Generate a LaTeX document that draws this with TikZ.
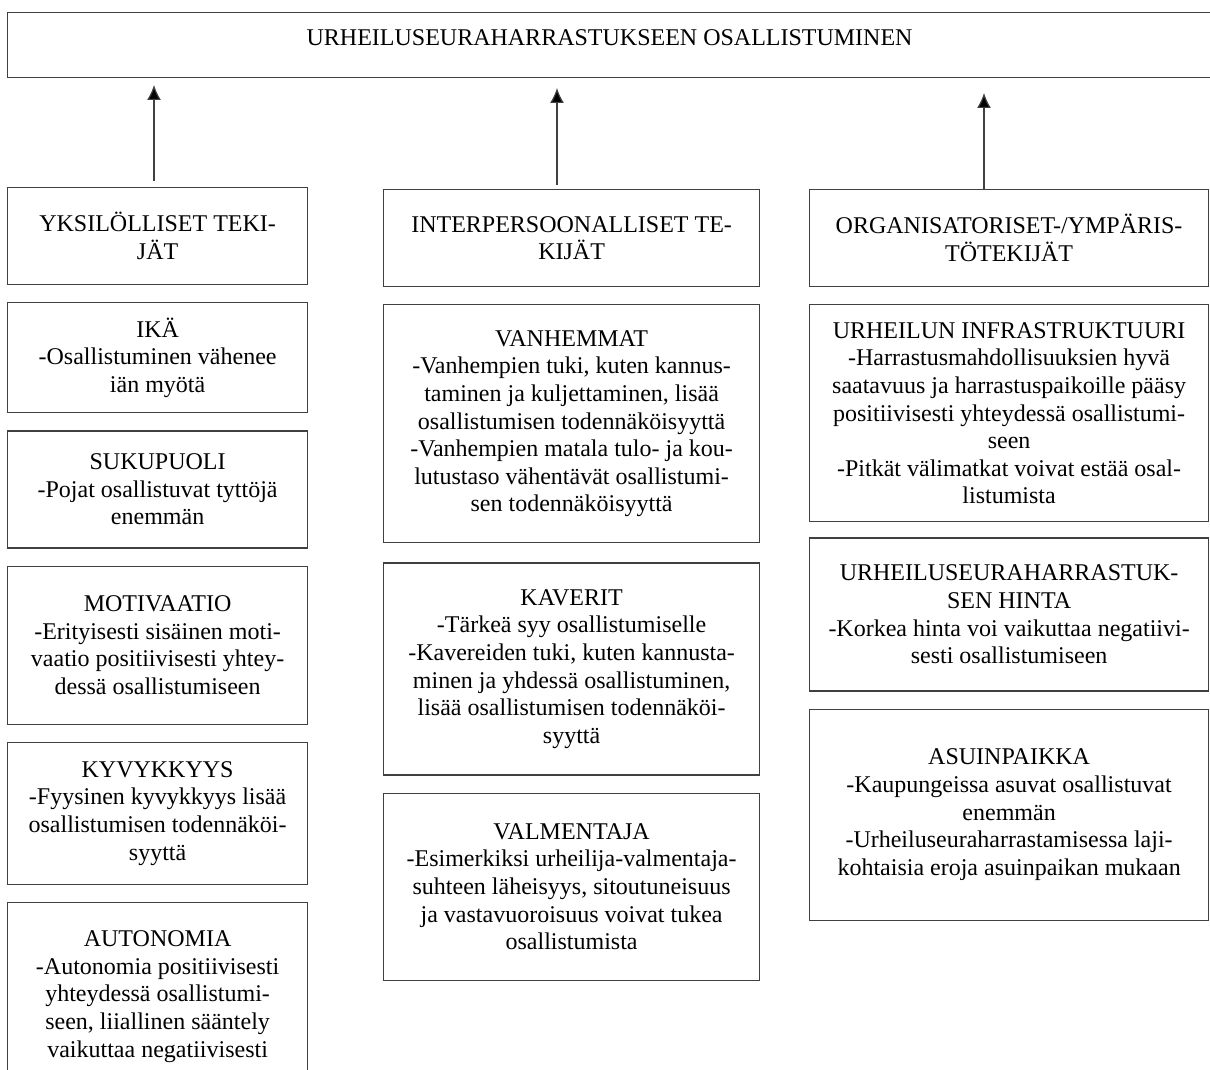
\documentclass[tikz,border=0pt]{standalone}
\usepackage{fontspec}
\setmainfont{Liberation Serif}
\usetikzlibrary{arrows.meta, positioning}

\begin{document}
\begin{tikzpicture}[x=0.5pt, y=-0.5pt, node distance=8.5pt,
  box/.style={draw=black!75, line width=0.6pt, rectangle, inner sep=0pt, align=center,
    font=\fontsize{12pt}{13.8pt}\selectfont},
  colone/.style={box, minimum width=150pt},
  coltwo/.style={box, minimum width=188pt},
  colthree/.style={box, minimum width=199.5pt},
  uparrow/.style={draw=black!75, line width=0.6pt, -{Latex[length=7.5pt, width=7pt, fill=black]}}]
\useasboundingbox (0,0) rectangle (1210,1070);
\clip (0,0) rectangle (1210,1070);

\node[box, anchor=north west, minimum width=602pt, minimum height=32.5pt, text depth=8pt] (top) at (7,12) {URHEILUSEURAHARRASTUKSEEN OSALLISTUMINEN};

\node[colone, anchor=north west, minimum height=48.5pt] (yks) at (7,187) {YKSILÖLLISET TEKI-\\JÄT};
\node[coltwo, anchor=north west, minimum height=48.5pt] (inter) at (383,189) {INTERPERSOONALLISET TE-\\KIJÄT};
\node[colthree, anchor=north west, minimum height=48.5pt] (org) at (809,189) {ORGANISATORISET-/YMPÄRIS-\\TÖTEKIJÄT};

\node[colone, below=of yks, minimum height=55pt] (ika) {IKÄ\\-Osallistuminen vähenee\\iän myötä};
\node[colone, below=of ika, minimum height=58.5pt] (suku) {SUKUPUOLI\\-Pojat osallistuvat tyttöjä\\enemmän};
\node[colone, below=of suku, minimum height=79pt] (moti) {MOTIVAATIO\\-Erityisesti sisäinen moti-\\vaatio positiivisesti yhtey-\\dessä osallistumiseen};
\node[colone, below=of moti, minimum height=71pt] (kyky) {KYVYKKYYS\\-Fyysinen kyvykkyys lisää\\osallistumisen todennäköi-\\syyttä};
\node[colone, below=of kyky, minimum height=94pt] (auton) {AUTONOMIA\\-Autonomia positiivisesti\\yhteydessä osallistumi-\\seen, liiallinen sääntely\\vaikuttaa negatiivisesti};

\node[coltwo, below=of inter, minimum height=119pt] (vanh) {VANHEMMAT\\-Vanhempien tuki, kuten kannus-\\taminen ja kuljettaminen, lisää\\osallistumisen todennäköisyyttä\\-Vanhempien matala tulo- ja kou-\\lutustaso vähentävät osallistumi-\\sen todennäköisyyttä};
\node[coltwo, below=9.5pt of vanh, minimum height=106pt] (kave) {KAVERIT\\-Tärkeä syy osallistumiselle\\-Kavereiden tuki, kuten kannusta-\\minen ja yhdessä osallistuminen,\\lisää osallistumisen todennäköi-\\syyttä};
\node[coltwo, below=of kave, minimum height=93.5pt] (valm) {VALMENTAJA\\-Esimerkiksi urheilija-valmentaja-\\suhteen läheisyys, sitoutuneisuus\\ja vastavuoroisuus voivat tukea\\osallistumista};

\node[colthree, below=of org, minimum height=108.5pt] (infra) {URHEILUN INFRASTRUKTUURI\\-Harrastusmahdollisuuksien hyvä\\saatavuus ja harrastuspaikoille pääsy\\positiivisesti yhteydessä osallistumi-\\seen\\-Pitkät välimatkat voivat estää osal-\\listumista};
\node[colthree, below=7.5pt of infra, minimum height=76.5pt] (hinta) {URHEILUSEURAHARRASTUK-\\SEN HINTA\\-Korkea hinta voi vaikuttaa negatiivi-\\sesti osallistumiseen};
\node[colthree, below=of hinta, minimum height=105.5pt] (asuin) {ASUINPAIKKA\\-Kaupungeissa asuvat osallistuvat\\enemmän\\-Urheiluseuraharrastamisessa laji-\\kohtaisia eroja asuinpaikan mukaan};

\coordinate (tipa) at (154,85);
\coordinate (tipb) at (557,88);
\coordinate (tipc) at (984,93);
\draw[uparrow, shorten <=3pt] (yks.north -| tipa) -- (tipa);
\draw[uparrow, shorten <=2pt] (inter.north -| tipb) -- (tipb);
\draw[uparrow] (org.north -| tipc) -- (tipc);
\end{tikzpicture}
\end{document}
